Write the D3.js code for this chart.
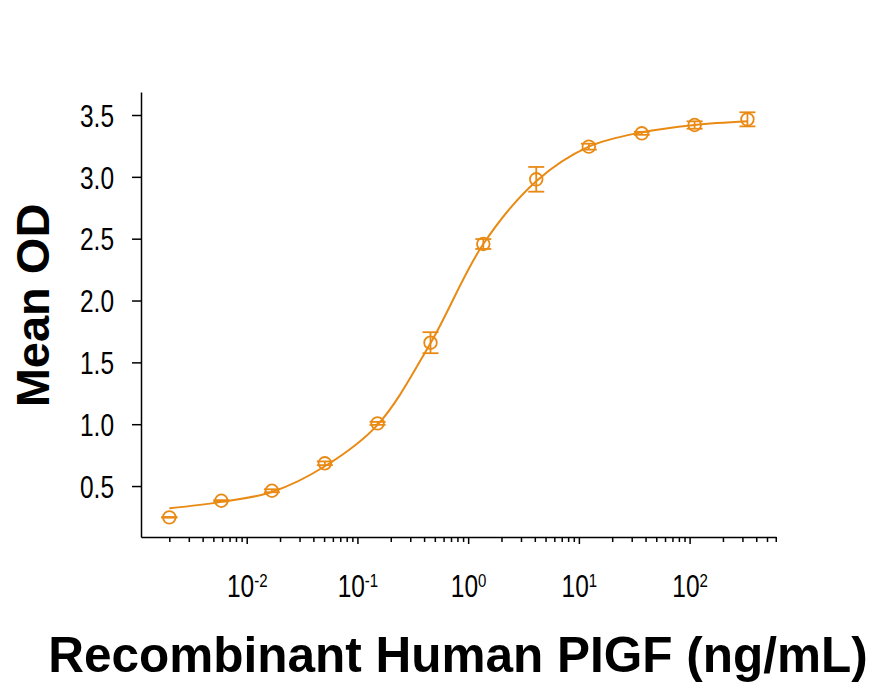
<!DOCTYPE html>
<html lang="en">
<head>
<meta charset="UTF-8">
<title>PlGF dose response</title>
<style>
  body { margin: 0; background: #fff; }
  .tick text { font-family: "Liberation Sans", Arial, sans-serif; fill: #000; font-size: 31px; }
  .axis path, .axis line { stroke: #000; stroke-width: 1.5; }
  .title { font-family: "Liberation Sans", Arial, sans-serif; font-weight: bold; fill: #000; }
</style>
</head>
<body>
<div id="chart-container"></div>
<script src="https://d3js.org/d3.v7.min.js"></script>
<script>

  // concentrations (ng/mL)
  var conc = [0.0020, 0.0059, 0.0169, 0.0508, 0.152, 0.457, 1.37, 4.12, 12.3, 37.0, 111, 333];
  var meanOD = [0.247, 0.381, 0.462, 0.684, 1.007, 1.659, 2.457, 2.98, 3.244, 3.352, 3.419, 3.465];
  var errOD = [0.003, 0.005, 0.012, 0.015, 0.012, 0.085, 0.04, 0.1, 0.024, 0.012, 0.03, 0.057];

  // fitted curve
  var curveX = [0.0020, 0.0059, 0.0169, 0.0508, 0.152, 0.457, 1.37, 4.12, 12.3, 37.0, 111, 333];
  var curveY = [0.32, 0.372, 0.452, 0.66, 0.995, 1.655, 2.457, 2.965, 3.244, 3.36, 3.42, 3.45];

  var yTicks = [0.5, 1.0, 1.5, 2.0, 2.5, 3.0, 3.5];
  var xExponents = [-2, -1, 0, 1, 2];

  var width = 874, height = 686;
  var mLeft = 141, mRight = 776, mTop = 92, mBottom = 537;
  var squeeze = 0.79;   // tick labels are a condensed face
  var orange = "#e98a15";

  var svg = d3.select("#chart-container").append("svg")
    .attr("width", width)
    .attr("height", height);

  var x = d3.scaleLog().domain([0.00111, 603]).range([mLeft, mRight]);
  var y = d3.scaleLinear().domain([0.088, 3.686]).range([mBottom, mTop]);

  // x axis, minor ticks from the log scale, majors at powers of ten
  var xAxis = d3.axisBottom(x)
    .tickValues(x.ticks())
    .tickSize(5)
    .tickSizeOuter(0)
    .tickFormat("");

  var gx = svg.append("g")
    .attr("class", "axis")
    .attr("transform", "translate(0," + mBottom + ")")
    .call(xAxis);

  gx.selectAll(".tick")
    .filter(function(d) {
      var e = Math.log10(d);
      return Math.abs(e - Math.round(e)) < 1e-9 && xExponents.indexOf(Math.round(e)) >= 0;
    })
    .each(function(d) {
      var p = Math.round(Math.log10(d));
      var g = d3.select(this);
      g.select("line").attr("y2", 7);
      var t = g.select("text")
        .attr("y", 60)
        .attr("dy", null)
        .attr("transform", "scale(" + squeeze + ",1)")
        .text(null);
      t.append("tspan").text("10");
      t.append("tspan")
        .style("font-size", "19px")
        .attr("dy", -10)
        .text(p < 0 ? "-" + Math.abs(p) : p);
    });

  // y axis
  var yAxis = d3.axisLeft(y)
    .tickValues(yTicks)
    .tickSize(9)
    .tickSizeOuter(0)
    .tickPadding(18)
    .tickFormat(d3.format(".1f"));

  svg.append("g")
    .attr("class", "axis")
    .attr("transform", "translate(" + mLeft + ",0)")
    .call(yAxis)
    .selectAll("text")
      .attr("x", -27 / squeeze)
      .attr("transform", "scale(" + squeeze + ",1)")
      .attr("dy", "0.36em");

  // curve
  var curveData = curveX.map(function(c, i) { return { c: c, v: curveY[i] }; });
  var line = d3.line()
    .x(function(d) { return x(d.c); })
    .y(function(d) { return y(d.v); })
    .curve(d3.curveCatmullRom.alpha(0.5));

  svg.append("path")
    .datum(curveData)
    .attr("d", line)
    .attr("fill", "none")
    .attr("stroke", orange)
    .attr("stroke-width", 2);

  // points with error bars
  var data = conc.map(function(c, i) { return { c: c, v: meanOD[i], e: errOD[i] }; });
  var pts = svg.append("g").selectAll("g")
    .data(data)
    .enter().append("g")
      .attr("stroke", orange)
      .attr("stroke-width", 1.8)
      .attr("fill", "none");

  pts.append("line")
    .attr("x1", function(d) { return x(d.c); })
    .attr("x2", function(d) { return x(d.c); })
    .attr("y1", function(d) { return y(d.v - d.e); })
    .attr("y2", function(d) { return y(d.v + d.e); });
  pts.append("line")
    .attr("x1", function(d) { return x(d.c) - 8; })
    .attr("x2", function(d) { return x(d.c) + 8; })
    .attr("y1", function(d) { return y(d.v + d.e); })
    .attr("y2", function(d) { return y(d.v + d.e); });
  pts.append("line")
    .attr("x1", function(d) { return x(d.c) - 8; })
    .attr("x2", function(d) { return x(d.c) + 8; })
    .attr("y1", function(d) { return y(d.v - d.e); })
    .attr("y2", function(d) { return y(d.v - d.e); });
  pts.append("circle")
    .attr("cx", function(d) { return x(d.c); })
    .attr("cy", function(d) { return y(d.v); })
    .attr("r", 6.3);

  // titles
  svg.append("text")
    .attr("class", "title")
    .attr("x", 458)
    .attr("y", 672)
    .attr("text-anchor", "middle")
    .attr("font-size", 49.5)
    .text("Recombinant Human PIGF (ng/mL)");

  svg.append("text")
    .attr("class", "title")
    .attr("transform", "translate(49,305.5) rotate(-90)")
    .attr("text-anchor", "middle")
    .attr("font-size", 47)
    .text("Mean OD");

</script>
</body>
</html>
